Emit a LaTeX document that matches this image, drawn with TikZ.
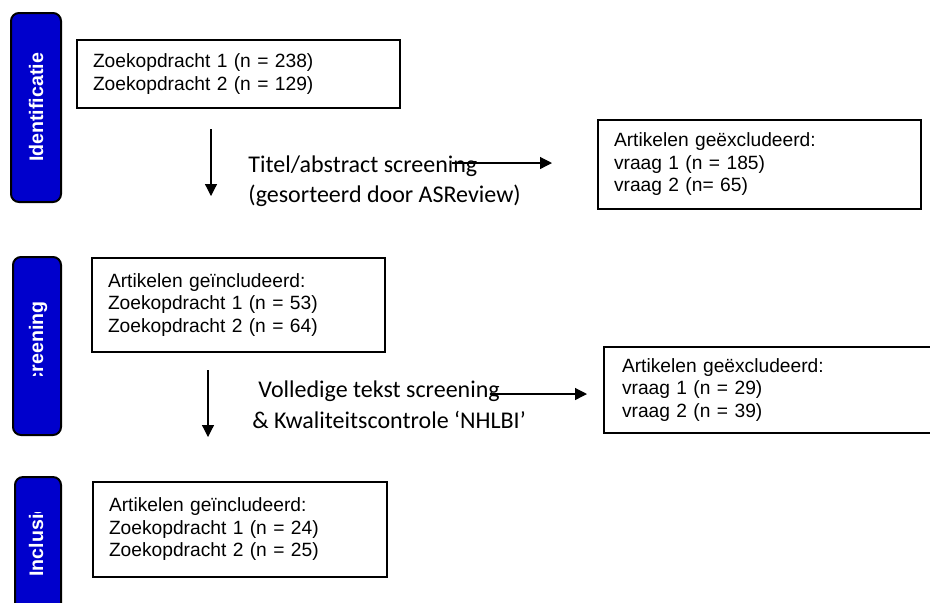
\documentclass[tikz,border=0pt]{standalone}
\usepackage{fontspec}
\setmainfont{Liberation Sans}
\newfontfamily\calibrifont{Carlito}
\usetikzlibrary{arrows.meta}

\definecolor{tabblue}{RGB}{0,0,204}

\tikzset{
  stagebox/.style={draw,line width=1pt,inner xsep=8pt,align=left,anchor=north west,font=\fontsize{9.6}{11.25}\selectfont},
  phasetab/.style={draw,line width=1pt,fill=tabblue,rounded corners=4pt},
  phaselabel/.style={rotate=90,inner sep=0pt,text=white,font=\fontsize{9.8}{10}\selectfont\bfseries},
  steplabel/.style={inner sep=0pt,font=\calibrifont\fontsize{12}{15.25}\selectfont},
  flowarrow/.style={-{Triangle[length=6pt,width=6pt]},line width=0.6pt}
}

\begin{document}
\begin{tikzpicture}[x=0.5pt,y=-0.5pt]
        \useasboundingbox (0,0) rectangle (930,602);
        % fase tabs
        \node [phasetab,minimum width=25pt,minimum height=94.5pt] (tabident) at (36,107.5) {};
        \node [phasetab,minimum width=24pt,minimum height=89pt] (tabscreen) at (37,346) {};
        \node [phasetab,minimum width=23pt,minimum height=74pt] (tabincl) at (38,551) {};
        \node [phaselabel,anchor=base] (labident) at (43,107.5) {Identificatie};
        \begin{scope}
        \clip (0,257) rectangle (80,375);
        \node [phaselabel,anchor=base east] (labscreen) at (43,301) {Screening};
        \end{scope}
        \begin{scope}
        \clip (0,512) rectangle (80,610);
        \node [phaselabel,anchor=base west] (labincl) at (43,577) {Inclusie};
        \end{scope}
        % boxes
        \node [stagebox,text width=145.5pt,minimum height=34pt] (search) at (76,39) {Zoekopdracht 1 (n = 238)\\Zoekopdracht 2 (n = 129)};
        \node [stagebox,text width=145.5pt,minimum height=44.5pt] (excl1) at (597,119) {Artikelen geëxcludeerd:\\vraag 1 (n = 185)\\vraag 2 (n= 65)};
        \node [stagebox,text width=130.5pt,minimum height=47pt] (incl1) at (91,257) {Artikelen geïncludeerd:\\Zoekopdracht 1 (n = 53)\\Zoekopdracht 2 (n = 64)};
        \node [stagebox,inner xsep=9pt,text width=150.5pt,minimum height=43pt] (excl2) at (603,346) {Artikelen geëxcludeerd:\\vraag 1 (n = 29)\\vraag 2 (n = 39)};
        \node [stagebox,text width=131pt,minimum height=47.5pt] (incl2) at (92,481) {Artikelen geïncludeerd:\\Zoekopdracht 1 (n = 24)\\Zoekopdracht 2 (n = 25)};
        % screening steps
        \node [steplabel,align=left,anchor=west] (step1) at (248,181) {Titel/abstract screening\\(gesorteerd door ASReview)};
        \node [steplabel,align=left,anchor=west] (step2) at (252,404.5) {\hspace{3pt}Volledige tekst screening\\\& Kwaliteitscontrole ‘NHLBI’};
        \coordinate (down1a) at (211,129);
        \coordinate (down1b) at (211,196);
        \coordinate (side1a) at (452,163);
        \coordinate (side1b) at (552,163);
        \coordinate (down2a) at (208,370);
        \coordinate (down2b) at (208,437);
        \coordinate (side2a) at (490,394);
        \coordinate (side2b) at (587,394);
        \draw [flowarrow] (down1a) -- (down1b);
        \draw [flowarrow] (side1a) -- (side1b);
        \draw [flowarrow] (down2a) -- (down2b);
        \draw [flowarrow] (side2a) -- (side2b);
\end{tikzpicture}
\end{document}
